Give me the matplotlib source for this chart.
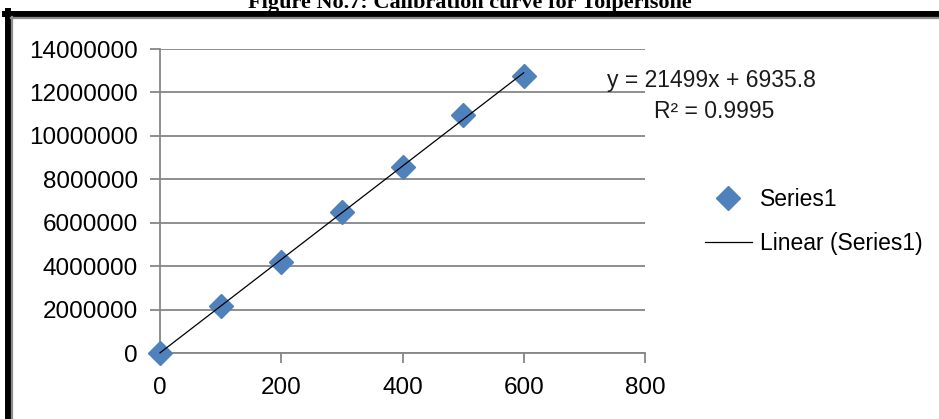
import matplotlib
matplotlib.use("Agg")
import matplotlib.pyplot as plt
from matplotlib.lines import Line2D
import numpy as np

# Calibration data: concentration vs. peak area
conc = [0, 100, 200, 300, 400, 500, 600]
area = [0, 2180000, 4200000, 6500000, 8580000, 10950000, 12760000]

# Linear trendline as reported on the chart
slope = 21499
intercept = 6935.8
r2 = 0.9995

x_ticks = [0, 200, 400, 600, 800]
y_ticks = list(range(0, 14000001, 2000000))

W, H = 939, 419
DPI = 100
GRID = "#868686"
BLUE = "#4F81BD"
FONT = "Liberation Sans"
FS = 17.5

fig = plt.figure(figsize=(W / DPI, H / DPI), dpi=DPI)
fig.patch.set_facecolor("white")

def fx(px):
    return px / W

def fy(py):
    return 1 - py / H

ax = fig.add_axes([fx(160), fy(353), fx(645) - fx(160), fy(49) - fy(353)])

ax.set_xlim(0, 800)
ax.set_ylim(0, 14000000)
ax.set_xticks(x_ticks)
ax.set_yticks(y_ticks)
ax.set_xticklabels([str(v) for v in x_ticks], fontfamily=FONT, fontsize=FS)
ax.set_yticklabels([str(v) for v in y_ticks], fontfamily=FONT, fontsize=FS)

ax.grid(axis="y", color=GRID, linewidth=1.3)
ax.set_axisbelow(True)
for side in ("top", "right"):
    ax.spines[side].set_visible(False)
for side in ("left", "bottom"):
    ax.spines[side].set_color(GRID)
    ax.spines[side].set_linewidth(1.3)
ax.tick_params(axis="both", direction="out", color=GRID, width=1.3, length=7)
ax.tick_params(axis="y", pad=9)
ax.tick_params(axis="x", pad=10)

# trendline from the fitted equation
xl = np.array([conc[0], conc[-1]])
trend, = ax.plot(xl, slope * xl + intercept, color="black", linewidth=0.9,
                 label="Linear (Series1)", zorder=4, clip_on=False)
pts, = ax.plot(conc, area, linestyle="none", marker="D", markersize=12.5,
               color=BLUE, markeredgecolor=BLUE, label="Series1", zorder=3,
               clip_on=False)

fig.text(fx(711), fy(80), f"y = {slope}x + {intercept}", ha="center", va="center",
         fontfamily=FONT, fontsize=FS - 1, color="#1a1a1a")
fig.text(fx(714), fy(112), f"R² = {r2}", ha="center", va="center",
         fontfamily=FONT, fontsize=FS - 1, color="#1a1a1a")

fig.legend(handles=[pts, trend], loc="upper left",
           bbox_to_anchor=(fx(705), fy(188)), frameon=False,
           prop={"family": FONT, "size": FS - 1}, handlelength=2.05,
           handletextpad=0.35, labelspacing=0.9, borderpad=0, borderaxespad=0)

# page frame around the chart
fig.add_artist(Line2D([fx(5), fx(W)], [fy(14), fy(14)], color="black", linewidth=4.3))
fig.add_artist(Line2D([fx(8), fx(8)], [fy(11), fy(H)], color="black", linewidth=4.3))
fig.add_artist(Line2D([fx(11), fx(W)], [fy(18), fy(18)], color="#8c8c8c", linewidth=1.6))
fig.add_artist(Line2D([fx(12), fx(12)], [fy(17), fy(H)], color="#8c8c8c", linewidth=1.6))

fig.text(0.5, fy(8), "Figure No.7: Calibration curve for Tolperisone", ha="center",
         va="baseline", fontfamily="Liberation Serif", fontweight="bold", fontsize=16)

fig.savefig("out.png", dpi=DPI)
